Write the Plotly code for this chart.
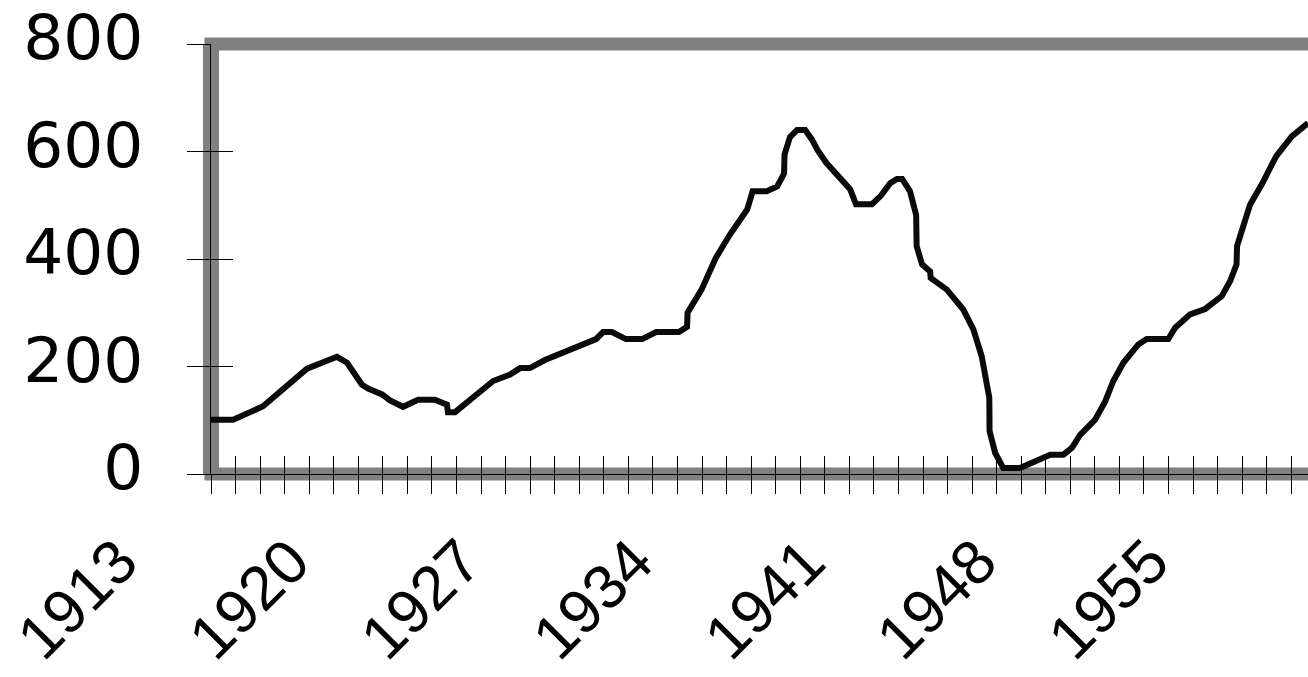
import plotly.graph_objects as go

# ---- data ----
years = [1913.00, 1913.90, 1915.12, 1916.91, 1918.13, 1918.54, 1919.15, 1919.40, 1919.97, 1920.29,
         1920.82, 1921.43, 1922.12, 1922.61, 1922.65, 1922.94, 1924.49, 1925.18, 1925.59, 1925.99,
         1926.60, 1927.34, 1927.99, 1928.68, 1928.97, 1929.33, 1929.90, 1930.56, 1931.13, 1932.06,
         1932.39, 1932.41, 1932.98, 1933.56, 1934.13, 1934.84, 1935.06, 1935.63, 1936.06, 1936.34,
         1936.36, 1936.58, 1936.87, 1937.20, 1937.48, 1937.70, 1938.06, 1938.63, 1939.03, 1939.27,
         1939.92, 1940.29, 1940.66, 1940.94, 1941.15, 1941.47, 1941.72, 1941.74, 1941.96, 1942.29,
         1942.31, 1942.97, 1943.64, 1944.05, 1944.39, 1944.70, 1944.71, 1944.94, 1945.27, 1945.95,
         1946.56, 1947.18, 1947.72, 1948.07, 1948.40, 1949.01, 1949.42, 1949.75, 1950.16, 1950.77,
         1951.11, 1951.99, 1952.27, 1952.88, 1953.49, 1954.17, 1954.51, 1954.77, 1954.79, 1955.32,
         1955.81, 1956.38, 1957.02, 1957.68]
values = [101, 101, 126, 196, 218, 207, 166, 159, 148, 137,
          125, 138, 138, 129, 115, 115, 173, 185, 197, 197,
          212, 226, 238, 251, 264, 264, 251, 251, 264, 264,
          274, 300, 343, 402, 445, 492, 526, 526, 535, 559,
          594, 627, 640, 640, 622, 603, 579, 551, 530, 502,
          502, 518, 541, 549, 549, 526, 482, 424, 390, 377,
          365, 343, 306, 269, 219, 142, 80, 39, 11, 11,
          24, 36, 36, 49, 73, 101, 135, 173, 207, 241,
          251, 251, 272, 297, 307, 331, 359, 390, 424, 501,
          540, 591, 628, 653]

tick_years = list(range(1913, 1958))
label_years = [1913, 1920, 1927, 1934, 1941, 1948, 1955]
y_ticks = [0, 200, 400, 600, 800]

x_range = [1913, 1957.68]
y_range = [0, 800]

tick_text = [str(y) if y in label_years else "" for y in tick_years]

fig = go.Figure()
fig.add_trace(go.Scatter(
    x=years, y=values, mode="lines",
    line=dict(color="#0a0a0a", width=6),
    hoverinfo="skip", showlegend=False,
))
# invisible trace to carry the overlaid (inside-tick) axes
fig.add_trace(go.Scatter(
    x=[x_range[0]], y=[y_range[0]], xaxis="x2", yaxis="y2", mode="markers",
    marker=dict(opacity=0), hoverinfo="skip", showlegend=False,
))

fig.update_layout(
    width=1308, height=677,
    margin=dict(l=211, r=0, t=44, b=203, autoexpand=False),
    paper_bgcolor="white", plot_bgcolor="white",
    showlegend=False,
    xaxis=dict(
        range=x_range, tickmode="array", tickvals=tick_years, ticktext=tick_text,
        ticks="outside", ticklen=19, tickwidth=1, tickcolor="black",
        showline=True, linecolor="black", linewidth=1,
        showgrid=False, zeroline=False, automargin=False,
        tickangle=-45,
        tickfont=dict(family="Liberation Sans", size=62, color="black"),
        ticklabelshift=-92, ticklabelstandoff=6,
    ),
    yaxis=dict(
        range=y_range, tickmode="array", tickvals=y_ticks,
        ticks="outside", ticklen=23, tickwidth=1, tickcolor="black",
        showline=True, linecolor="black", linewidth=1,
        showgrid=False, zeroline=False, automargin=False,
        tickfont=dict(family="DejaVu Sans", size=63, color="black"),
        ticklabelstandoff=31, ticklabelshift=-7,
    ),
    xaxis2=dict(
        range=x_range, overlaying="x", anchor="y", side="bottom",
        tickmode="array", tickvals=tick_years, showticklabels=False,
        ticks="inside", ticklen=18, tickwidth=1, tickcolor="black",
        showline=False, showgrid=False, zeroline=False, automargin=False,
    ),
    yaxis2=dict(
        range=y_range, overlaying="y", anchor="x", side="left",
        tickmode="array", tickvals=y_ticks, showticklabels=False,
        ticks="inside", ticklen=22, tickwidth=1, tickcolor="black",
        showline=False, showgrid=False, zeroline=False, automargin=False,
    ),
    shapes=[
        dict(type="path", xref="paper", yref="paper",
             path="M 1.05,1 L 0,1 L 0,0 L 1.05,0",
             line=dict(color="#808080", width=13), layer="below"),
        dict(type="line", xref="paper", yref="paper", x0=0, x1=0, y0=0, y1=1,
             line=dict(color="#808080", width=16), layer="below"),
    ],
)

fig.write_html("out.html", config={"displayModeBar": False},
               post_script="document.body.style.margin='0';")
